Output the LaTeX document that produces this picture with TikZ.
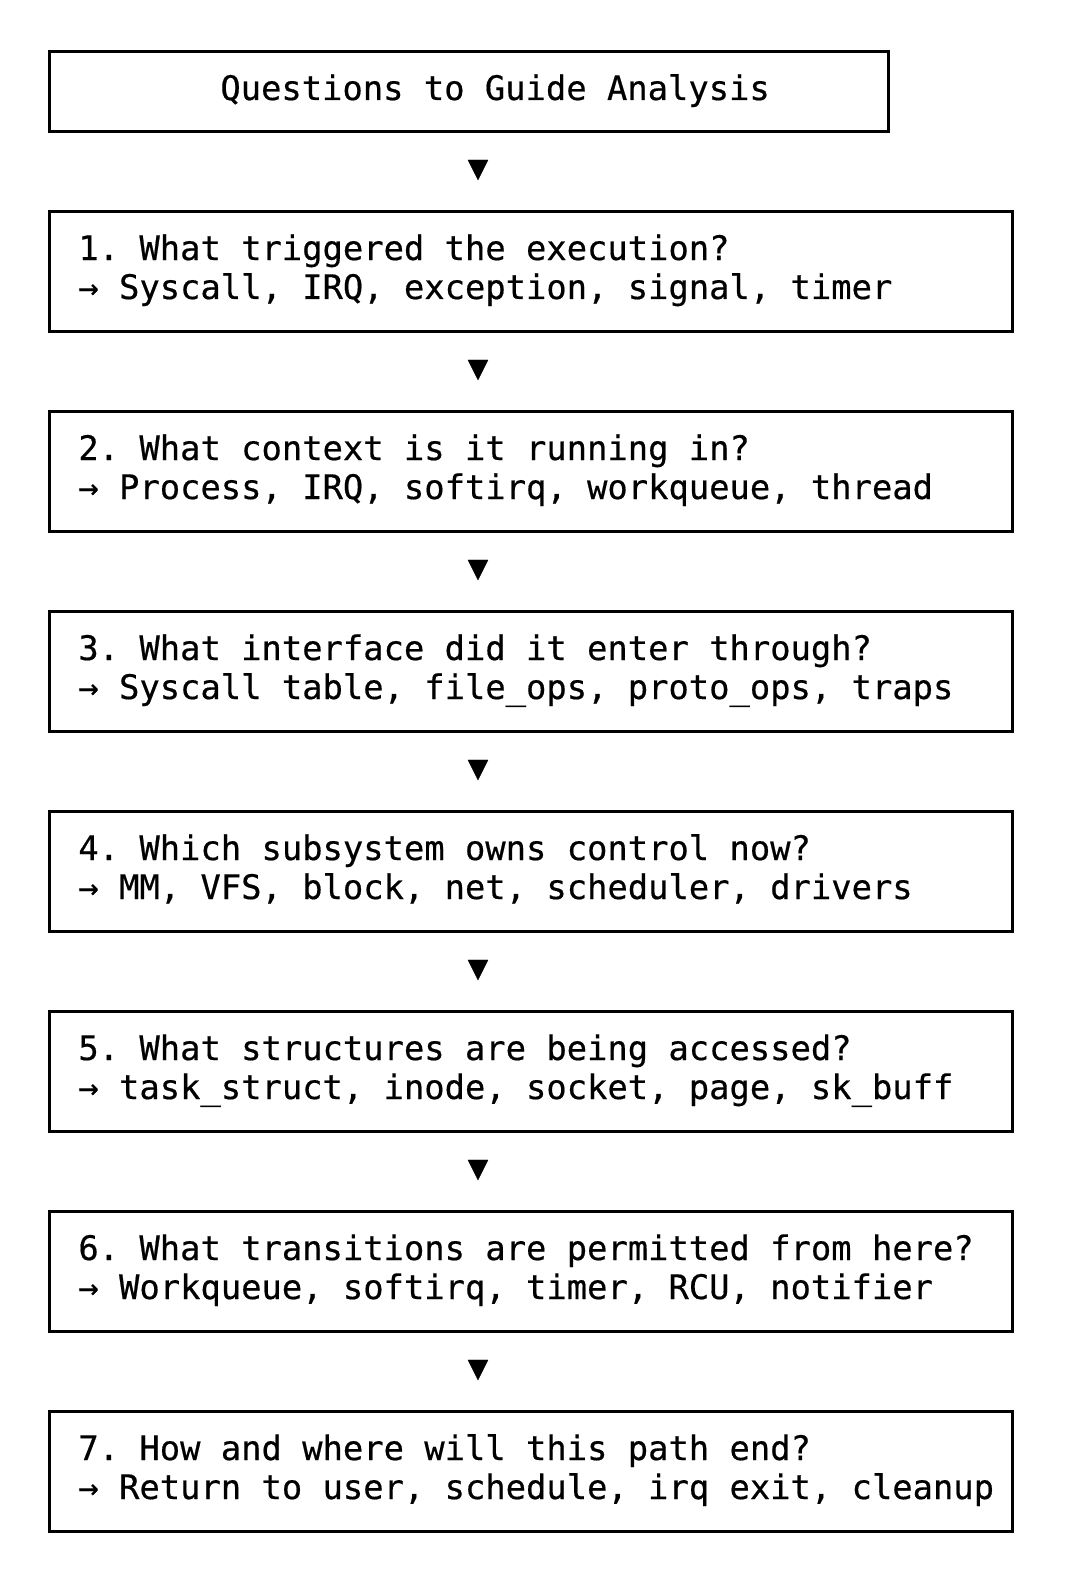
\documentclass[tikz,border=0pt]{standalone}
\usepackage{fontspec}
\newfontfamily\dvmono[FakeBold=0.5]{DejaVu Sans Mono}
\frenchspacing
\begin{document}
\begin{tikzpicture}[x=0.5pt,y=-0.5pt,
  qbox/.style={draw=black, line width=1.45pt, inner sep=0pt, anchor=north west, minimum width=481.5pt, minimum height=60pt},
  tbox/.style={draw=black, line width=1.45pt, inner sep=0pt, anchor=north west, minimum width=419.5pt, minimum height=40pt},
  qtext/.style={font=\dvmono\fontsize{16.9pt}{19.5pt}\selectfont, anchor=base west, inner sep=0pt},
  downmark/.style={font=\dvmono\fontsize{16.9pt}{19.5pt}\selectfont, inner sep=0pt, anchor=center}]
\useasboundingbox (0,0) rectangle (1068,1594);
% title
\node[tbox] (title) at (48,50) {};
\node[qtext] (titletext) at (220,100) {Questions to Guide Analysis};
% boxes
\node[qbox] (b1) at (48,210) {};
\node[qbox] (b2) at (48,410) {};
\node[qbox] (b3) at (48,610) {};
\node[qbox] (b4) at (48,810) {};
\node[qbox] (b5) at (48,1010) {};
\node[qbox] (b6) at (48,1210) {};
\node[qbox] (b7) at (48,1410) {};
% texts
\node[qtext] (t1a) at (78,260) {1. What triggered the execution?};
\node[qtext] (t1b) at (78,299) {→ Syscall, IRQ, exception, signal, timer};
\node[qtext] (t2a) at (78,460) {2. What context is it running in?};
\node[qtext] (t2b) at (78,499) {→ Process, IRQ, softirq, workqueue, thread};
\node[qtext] (t3a) at (78,660) {3. What interface did it enter through?};
\node[qtext] (t3b) at (78,699) {→ Syscall table, file\_ops, proto\_ops, traps};
\node[qtext] (t4a) at (78,860) {4. Which subsystem owns control now?};
\node[qtext] (t4b) at (78,899) {→ MM, VFS, block, net, scheduler, drivers};
\node[qtext] (t5a) at (78,1060) {5. What structures are being accessed?};
\node[qtext] (t5b) at (78,1099) {→ task\_struct, inode, socket, page, sk\_buff};
\node[qtext] (t6a) at (78,1260) {6. What transitions are permitted from here?};
\node[qtext] (t6b) at (78,1299) {→ Workqueue, softirq, timer, RCU, notifier};
\node[qtext] (t7a) at (78,1460) {7. How and where will this path end?};
\node[qtext] (t7b) at (78,1499) {→ Return to user, schedule, irq exit, cleanup};
% down marks
\node[downmark] (d0) at (478,170) {▼};
\node[downmark] (d1) at (478,370) {▼};
\node[downmark] (d2) at (478,570) {▼};
\node[downmark] (d3) at (478,770) {▼};
\node[downmark] (d4) at (478,970) {▼};
\node[downmark] (d5) at (478,1170) {▼};
\node[downmark] (d6) at (478,1370) {▼};
\end{tikzpicture}
\end{document}
